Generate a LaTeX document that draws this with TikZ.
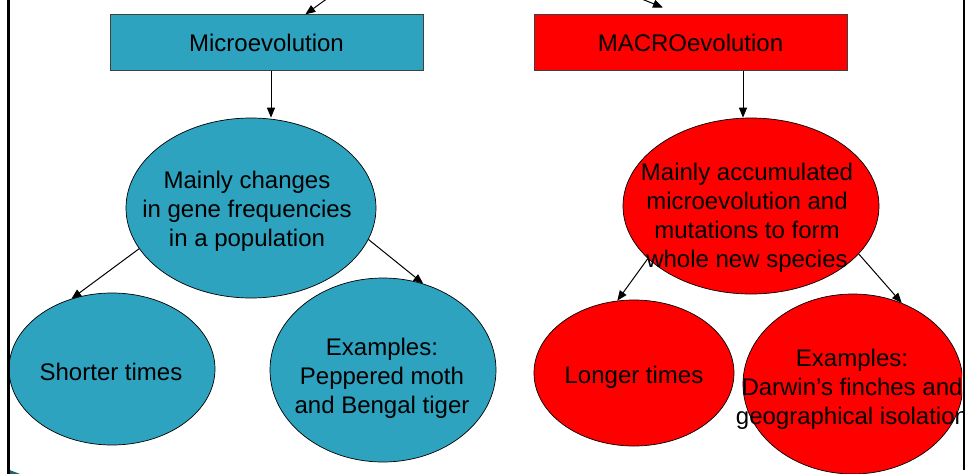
\documentclass[tikz,border=0pt]{standalone}
\usepackage{fontspec}
\setmainfont{Liberation Sans}
\usetikzlibrary{positioning, shapes.geometric, arrows.meta}
\definecolor{microblue}{RGB}{45,163,191}
\definecolor{macrored}{RGB}{255,0,0}
\definecolor{boxline}{RGB}{64,64,64}

\begin{document}
\begin{tikzpicture}[x=1pt, y=-1pt, >={Triangle[length=10pt,width=8pt]},
		every node/.style={font=\fontsize{24}{29}\selectfont},
		title/.style={draw=boxline, line width=0.8pt, minimum width=313, minimum height=55.5},
		bubble/.style={draw, ellipse, line width=0.7pt, inner sep=0pt},
		words/.style={align=center, inner sep=0pt},
		link/.style={->, line width=1pt}]
		
		\useasboundingbox (0,0) rectangle (967,474);
		
		\begin{scope}
		\clip (0,0) rectangle (962,474);
		
		\node[title, fill=microblue]                                     (micro box)  at (266.5,42.5) {Microevolution};
		\node[title, fill=macrored]                                      (macro box)  at (690.5,42.5) {MACROevolution};
		
		\node[bubble, fill=microblue, minimum width=250, minimum height=180] (micro mid)  at (251,208) {};
		\node[bubble, fill=macrored,  minimum width=256, minimum height=176] (macro mid)  at (751,206) {};
		\node[bubble, fill=microblue, minimum width=206, minimum height=152] (short)      at (112,369) {};
		\node[bubble, fill=microblue, minimum width=226, minimum height=184] (peppered)   at (383,370) {};
		\node[bubble, fill=macrored,  minimum width=200, minimum height=146] (longer)     at (634,373) {};
		\node[bubble, fill=macrored,  minimum width=220, minimum height=180] (darwin)     at (853,384) {};
		
		\node[words] (micro mid text) at (247,211)   {Mainly changes\\in gene frequencies\\in a population};
		\node[words] (macro mid text) at (747,218)   {Mainly accumulated\\microevolution and\\mutations to form\\whole new species};
		\node[words] (short text)     at (111,372)   {Shorter times};
		\node[words] (peppered text)  at (382,378)   {Examples:\\Peppered moth\\and Bengal tiger};
		\node[words] (longer text)    at (634,377)   {Longer times};
		\node[words] (darwin text)    at (852,389)   {Examples:\\Darwin’s finches and\\geographical isolation};
		
		\coordinate (micro src) at (339,-10);
		\coordinate (macro src) at (619,-10);
		\coordinate (macro tip) at (663,7.5);
		
		\draw[link] (micro src) -- (micro box);
		\draw[link] (macro src) -- (macro tip);
		
		\draw[link] ([xshift=4.5]micro box.south) -- ([xshift=4.5]micro box.south |- micro mid.north);
		\draw[link] ([xshift=-8]macro mid.north |- macro box.south) -- ([xshift=-8]macro mid.north);
		
		\draw[link] (micro mid.200) -- (short.120);
		\draw[link] (micro mid.345) -- (peppered.65);
		\draw[link] (macro mid.207) -- (longer.103);
		\draw[link] (macro mid.336) -- (darwin.59);
		
		\fill[microblue!60!black] (9.5,470) -- (20,474) -- (9.5,474) -- cycle;
		\end{scope}
		
		% slide frame
		\draw[line width=3pt] (8.5,0) -- (8.5,474);
		\draw[line width=2pt] (963.5,0) -- (963.5,470);
	\end{tikzpicture}
\end{document}
